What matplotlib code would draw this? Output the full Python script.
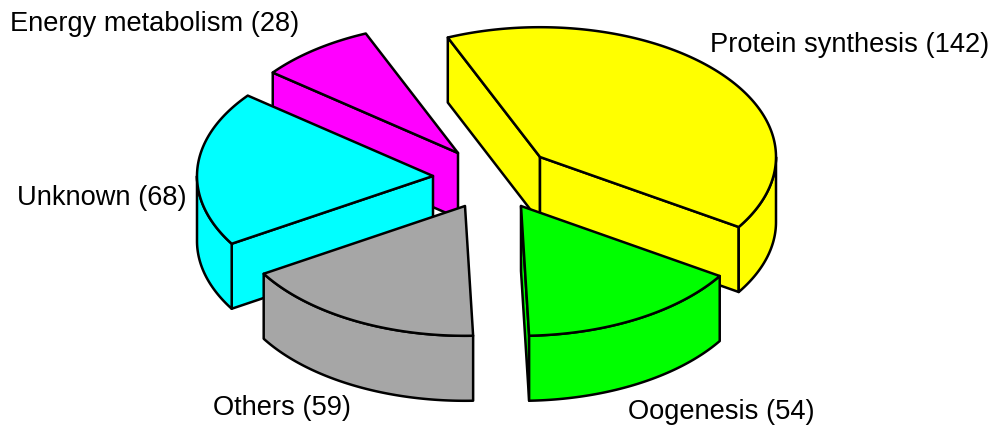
import numpy as np
import matplotlib.pyplot as plt
from matplotlib.patches import Polygon

labels = ['Protein synthesis', 'Oogenesis', 'Others', 'Unknown', 'Energy metabolism']
counts = [142, 54, 59, 68, 28]
colors = ['#ffff00', '#00ff00', '#a6a6a6', '#00ffff', '#ff00ff']

# pixel position of each slice tip (exploded pie)
tips = [(540, 157), (521, 206), (465, 206), (433, 176), (458, 153)]
label_pos = [(710, 45), (628, 412), (213, 408), (17, 198), (10, 24)]

R = 236
K = 0.55
H = 65
START = 113

plt.rcParams['font.family'] = ['Liberation Sans', 'DejaVu Sans']

fig = plt.figure(figsize=(9.92, 4.28), dpi=100)
ax = fig.add_axes([0, 0, 1, 1])
ax.set_xlim(0, 992)
ax.set_ylim(428, 0)
ax.axis('off')


def rim(tip, a, b):
    t = np.radians(np.linspace(a, b, max(int(abs(a - b)) * 2, 2)))
    return np.column_stack([tip[0] + R * np.cos(t), tip[1] - R * K * np.sin(t)])


def face(pts, color, z):
    ax.add_patch(Polygon(pts, closed=True, facecolor=color, edgecolor='black',
                         linewidth=1.8, joinstyle='round', zorder=z))


angles = START - np.cumsum([0] + counts) / sum(counts) * 360
drop = np.array([0, H])

# back slices first so the front ones cover them
order = [4, 3, 0, 2, 1]
for z, i in enumerate(order):
    a1, a2 = angles[i], angles[i + 1]
    tip = np.array(tips[i], dtype=float)
    col = colors[i]
    base = z * 10

    # cut faces, only those turned to the viewer
    for a, show in [(a1, np.cos(np.radians(a1)) < 0), (a2, np.cos(np.radians(a2)) > 0)]:
        if show:
            p = rim(tip, a, a)[0]
            face([tip, p, p + drop, tip + drop], col, base + 1)

    # outer wall, lower half of the ellipse only
    for lo, hi in [(-180, 0), (-540, -360)]:
        s, e = min(a1, hi), max(a2, lo)
        if s > e:
            arc = rim(tip, s, e)
            face(np.vstack([arc, (arc + drop)[::-1]]), col, base + 2)

    face(np.vstack([[tip], rim(tip, a1, a2)]), col, base + 3)

for name, n, pos in zip(labels, counts, label_pos):
    ax.text(pos[0], pos[1], f'{name} ({n})', fontsize=19.6, color='black',
            ha='left', va='center', zorder=100)

fig.savefig('out.png', dpi=100, facecolor='white')
